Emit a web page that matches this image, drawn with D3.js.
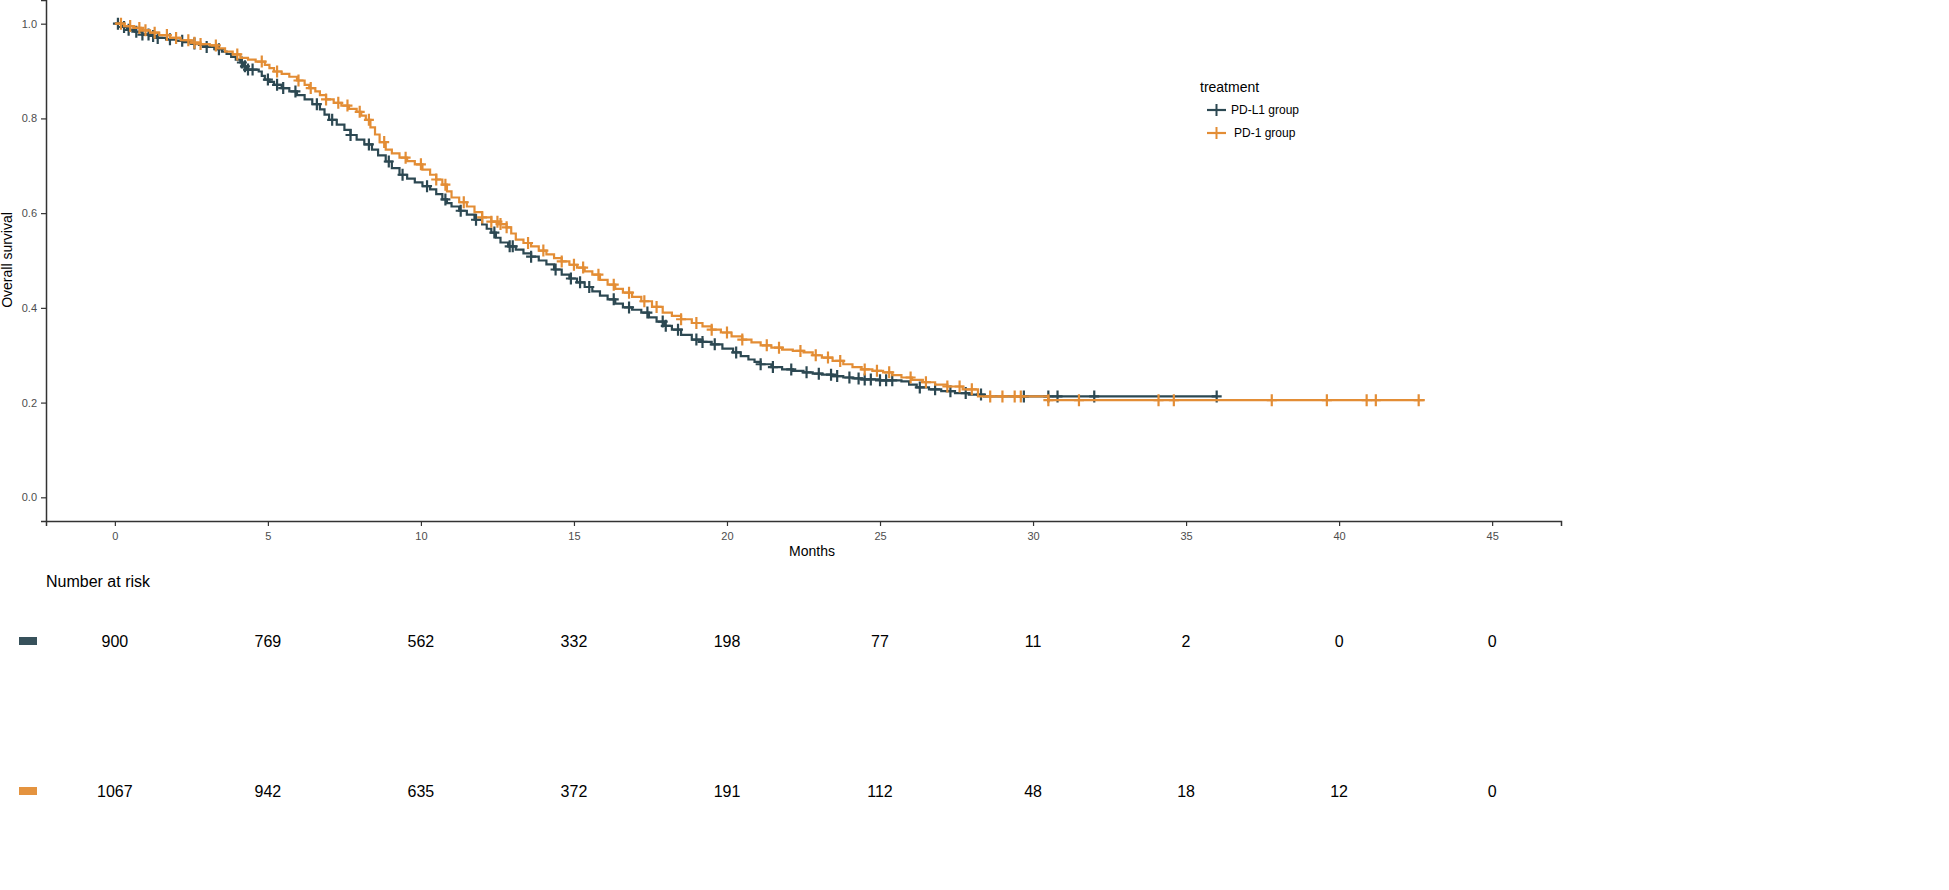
<!DOCTYPE html>
<html>
<head>
<meta charset="utf-8">
<script src="https://cdn.jsdelivr.net/npm/d3@7"></script>
<style>
  body { margin: 0; background: #fff; }
  svg { font-family: "Liberation Sans", Arial, sans-serif; }
</style>
</head>
<body>
<svg id="chart" width="1949" height="890"></svg>
<script>
// step points (months, survival)
const pdl1Time = [0, 0.25, 0.4, 0.65, 0.9, 1.15, 1.4, 1.7, 2.0, 2.25, 2.5, 2.75, 3.0, 3.25, 3.5, 3.65, 3.8, 3.95, 4.1, 4.2, 4.3, 4.7, 4.8, 4.9, 5.05, 5.2, 5.45, 5.7, 5.95, 6.2, 6.45, 6.7, 6.85, 7.0, 7.25, 7.5, 7.7, 7.9, 8.15, 8.4, 8.6, 8.85, 9.05, 9.3, 9.55, 9.8, 10.05, 10.3, 10.5, 10.7, 10.85, 11.0, 11.25, 11.5, 11.75, 12.0, 12.15, 12.3, 12.45, 12.6, 12.85, 13.1, 13.35, 13.6, 13.85, 14.1, 14.35, 14.6, 14.85, 15.1, 15.35, 15.6, 15.85, 16.1, 16.35, 16.6, 16.9, 17.2, 17.45, 17.7, 17.95, 18.2, 18.5, 18.85, 19.2, 19.5, 19.85, 20.2, 20.45, 20.7, 20.9, 21.1, 21.45, 21.8, 22.15, 22.5, 22.8, 23.1, 23.45, 23.8, 24.1, 24.4, 25.0, 25.7, 25.95, 26.2, 26.6, 27.0, 27.45, 27.9, 28.4, 36.0];
const pdl1Surv = [1.0, 0.993, 0.987, 0.983, 0.977, 0.974, 0.970, 0.967, 0.964, 0.961, 0.958, 0.955, 0.951, 0.946, 0.941, 0.936, 0.930, 0.924, 0.918, 0.910, 0.903, 0.899, 0.890, 0.882, 0.877, 0.871, 0.864, 0.857, 0.849, 0.840, 0.830, 0.819, 0.808, 0.797, 0.787, 0.776, 0.765, 0.755, 0.745, 0.734, 0.722, 0.709, 0.695, 0.681, 0.673, 0.665, 0.657, 0.650, 0.640, 0.629, 0.621, 0.614, 0.605, 0.597, 0.586, 0.576, 0.567, 0.559, 0.548, 0.538, 0.530, 0.523, 0.515, 0.508, 0.500, 0.492, 0.481, 0.470, 0.462, 0.454, 0.444, 0.435, 0.426, 0.418, 0.409, 0.401, 0.396, 0.390, 0.380, 0.371, 0.362, 0.354, 0.343, 0.333, 0.328, 0.323, 0.314, 0.306, 0.298, 0.291, 0.286, 0.281, 0.275, 0.270, 0.267, 0.264, 0.261, 0.259, 0.256, 0.253, 0.251, 0.249, 0.247, 0.245, 0.238, 0.232, 0.228, 0.224, 0.220, 0.217, 0.213, 0.213];
const pd1Time = [0, 0.3, 0.6, 0.85, 1.15, 1.45, 1.8, 2.15, 2.5, 2.8, 3.1, 3.35, 3.6, 3.85, 4.1, 4.35, 4.6, 4.9, 5.05, 5.2, 5.45, 5.7, 5.95, 6.2, 6.35, 6.55, 6.7, 6.9, 7.15, 7.4, 7.65, 7.9, 8.05, 8.2, 8.35, 8.5, 8.65, 8.85, 9.05, 9.3, 9.55, 9.8, 10.05, 10.3, 10.5, 10.7, 10.85, 11.0, 11.25, 11.5, 11.75, 12.0, 12.3, 12.55, 12.8, 12.95, 13.1, 13.35, 13.6, 13.85, 14.1, 14.35, 14.6, 14.85, 15.1, 15.35, 15.6, 15.85, 16.1, 16.35, 16.6, 16.9, 17.2, 17.55, 17.9, 18.2, 18.5, 18.85, 19.2, 19.5, 19.8, 20.15, 20.5, 20.8, 21.1, 21.45, 21.8, 22.15, 22.5, 22.8, 23.1, 23.45, 23.8, 24.1, 24.4, 24.75, 25.1, 25.4, 25.7, 26.05, 26.4, 26.8, 27.2, 27.7, 28.2, 30.5, 42.8];
const pd1Surv = [1.0, 0.995, 0.991, 0.986, 0.981, 0.976, 0.970, 0.965, 0.960, 0.957, 0.954, 0.948, 0.941, 0.935, 0.928, 0.924, 0.920, 0.913, 0.906, 0.899, 0.894, 0.888, 0.880, 0.871, 0.864, 0.857, 0.849, 0.840, 0.833, 0.827, 0.820, 0.814, 0.806, 0.797, 0.781, 0.766, 0.750, 0.734, 0.726, 0.717, 0.710, 0.703, 0.692, 0.681, 0.671, 0.660, 0.646, 0.633, 0.623, 0.614, 0.602, 0.591, 0.582, 0.577, 0.570, 0.557, 0.544, 0.537, 0.530, 0.521, 0.513, 0.505, 0.498, 0.491, 0.485, 0.477, 0.470, 0.459, 0.449, 0.440, 0.432, 0.423, 0.414, 0.402, 0.390, 0.383, 0.376, 0.368, 0.361, 0.354, 0.348, 0.340, 0.333, 0.327, 0.321, 0.316, 0.312, 0.309, 0.306, 0.300, 0.295, 0.288, 0.281, 0.275, 0.270, 0.267, 0.264, 0.258, 0.253, 0.248, 0.243, 0.238, 0.234, 0.228, 0.213, 0.205, 0.205];

// censoring times (months)
const pdl1Censor = [0.1, 0.3, 0.45, 0.7, 0.9, 1.1, 1.25, 1.4, 1.8, 2.2, 2.6, 3.0, 3.4, 4.15, 4.25, 4.35, 4.5, 5.0, 5.3, 5.5, 5.9, 6.6, 7.1, 7.7, 8.3, 8.95, 9.4, 10.2, 10.8, 11.3, 11.8, 12.4, 12.9, 13.0, 13.6, 14.4, 14.9, 15.2, 15.5, 16.3, 16.8, 17.4, 17.9, 18.0, 18.4, 19.0, 19.2, 19.6, 20.3, 21.1, 21.5, 22.1, 22.6, 23.0, 23.4, 23.6, 24.0, 24.3, 24.5, 24.7, 25.0, 25.2, 25.4, 26.3, 26.8, 27.3, 27.8, 28.3, 29.7, 30.5, 30.8, 32.0, 36.0];
const pd1Censor = [0.2, 0.5, 0.8, 1.0, 1.3, 1.7, 2.0, 2.4, 2.6, 2.8, 3.3, 4.0, 4.8, 5.3, 6.0, 6.4, 6.9, 7.3, 7.6, 8.0, 8.3, 8.8, 9.5, 10.0, 10.5, 10.8, 11.4, 12.0, 12.3, 12.5, 12.6, 12.8, 13.5, 14.0, 14.6, 15.0, 15.3, 15.8, 16.3, 16.8, 17.3, 17.7, 18.5, 19.0, 19.5, 20.0, 20.5, 21.3, 21.7, 22.4, 22.9, 23.3, 23.7, 24.5, 24.9, 25.3, 26.0, 26.5, 27.2, 27.6, 28.0, 28.6, 29.0, 29.4, 29.6, 30.5, 31.5, 34.1, 34.6, 37.8, 39.6, 40.9, 41.2, 42.6];

const groups = ["PD-L1 group", "PD-1 group"];
const groupColors = ["#2c4852", "#e38d35"];
const xTicks = [0, 5, 10, 15, 20, 25, 30, 35, 40, 45];
const yTicks = [0.0, 0.2, 0.4, 0.6, 0.8, 1.0];
const riskPdl1 = [900, 769, 562, 332, 198, 77, 11, 2, 0, 0];
const riskPd1 = [1067, 942, 635, 372, 191, 112, 48, 18, 12, 0];

const svg = d3.select("#chart");

const x = d3.scaleLinear().domain([-2.25, 47.25]).range([46, 1561]);
const y = d3.scaleLinear().domain([-0.05, 1.05]).range([521, 0]);

// axes
const xAxis = svg.append("g")
    .attr("transform", "translate(0,521)")
    .call(d3.axisBottom(x).tickValues(xTicks).tickSize(5).tickPadding(6).tickFormat(d3.format("d")));
const yAxis = svg.append("g")
    .attr("transform", "translate(46,0)")
    .call(d3.axisLeft(y).tickValues(yTicks).tickSize(5).tickPadding(4).tickFormat(d3.format(".1f")));
[xAxis, yAxis].forEach(a => {
    a.select(".domain").attr("stroke", "#333").attr("stroke-width", 1.5);
    a.selectAll(".tick line").attr("stroke", "#333").attr("stroke-width", 1.2);
    a.selectAll(".tick text").attr("fill", "#4d4d4d").attr("font-size", 11)
        .attr("font-family", "Liberation Sans, Arial, sans-serif");
});

svg.append("text")
    .attr("x", 812).attr("y", 556)
    .attr("text-anchor", "middle")
    .attr("font-size", 14)
    .text("Months");

svg.append("text")
    .attr("transform", "translate(12,260) rotate(-90)")
    .attr("text-anchor", "middle")
    .attr("font-size", 14)
    .text("Overall survival");

// survival curves
const series = [
    { time: pdl1Time, surv: pdl1Surv, censor: pdl1Censor },
    { time: pd1Time, surv: pd1Surv, censor: pd1Censor }
];

const line = d3.line()
    .x(d => x(d[0]))
    .y(d => y(d[1]))
    .curve(d3.curveStepAfter);

// survival value of a curve at time t
const survAt = (s, t) => {
    const i = d3.bisectRight(s.time, t) - 1;
    return s.surv[Math.max(0, i)];
};

series.forEach((s, gi) => {
    const pts = s.time.map((t, i) => [t, s.surv[i]]);
    svg.append("path")
        .datum(pts)
        .attr("fill", "none")
        .attr("stroke", groupColors[gi])
        .attr("stroke-width", 2.2)
        .attr("d", line);

    svg.append("g")
        .selectAll("path").data(s.censor)
        .enter().append("path")
        .attr("transform", t => `translate(${x(t)},${y(survAt(s, t))})`)
        .attr("d", "M-5,0H5M0,-6V6")
        .attr("stroke", groupColors[gi])
        .attr("stroke-width", 2.2)
        .attr("fill", "none");
});

// legend
const legend = svg.append("g");
legend.append("text")
    .attr("x", 1200).attr("y", 92)
    .attr("font-size", 14)
    .text("treatment");
const legendRow = legend.selectAll(".legends").data(groups)
    .enter().append("g")
    .classed("legends", true)
    .attr("transform", (d, i) => `translate(1207,${110 + i * 23})`);
legendRow.append("line")
    .attr("x1", 0).attr("x2", 19)
    .attr("stroke", (d, i) => groupColors[i])
    .attr("stroke-width", 2.2);
legendRow.append("path")
    .attr("d", "M4.5,0H14.5M9.5,-6V6")
    .attr("stroke", (d, i) => groupColors[i])
    .attr("stroke-width", 2);
legendRow.append("text")
    .attr("x", (d, i) => i === 0 ? 24 : 27)
    .attr("y", 4)
    .attr("font-size", 12)
    .text(d => d);

// risk table
svg.append("text")
    .attr("x", 46).attr("y", 587)
    .attr("font-size", 16)
    .text("Number at risk");

const riskRows = [riskPdl1, riskPd1];
const rowY = [641, 791];
riskRows.forEach((row, gi) => {
    svg.append("rect")
        .attr("x", 19).attr("y", rowY[gi] - 4)
        .attr("width", 18).attr("height", 8)
        .attr("fill", groupColors[gi])
        .attr("opacity", 0.95);
    svg.append("g")
        .selectAll("text").data(row)
        .enter().append("text")
        .attr("x", (d, i) => x(xTicks[i]))
        .attr("y", rowY[gi] + 6)
        .attr("text-anchor", "middle")
        .attr("font-size", 16)
        .text(d => d);
});
</script>
</body>
</html>
